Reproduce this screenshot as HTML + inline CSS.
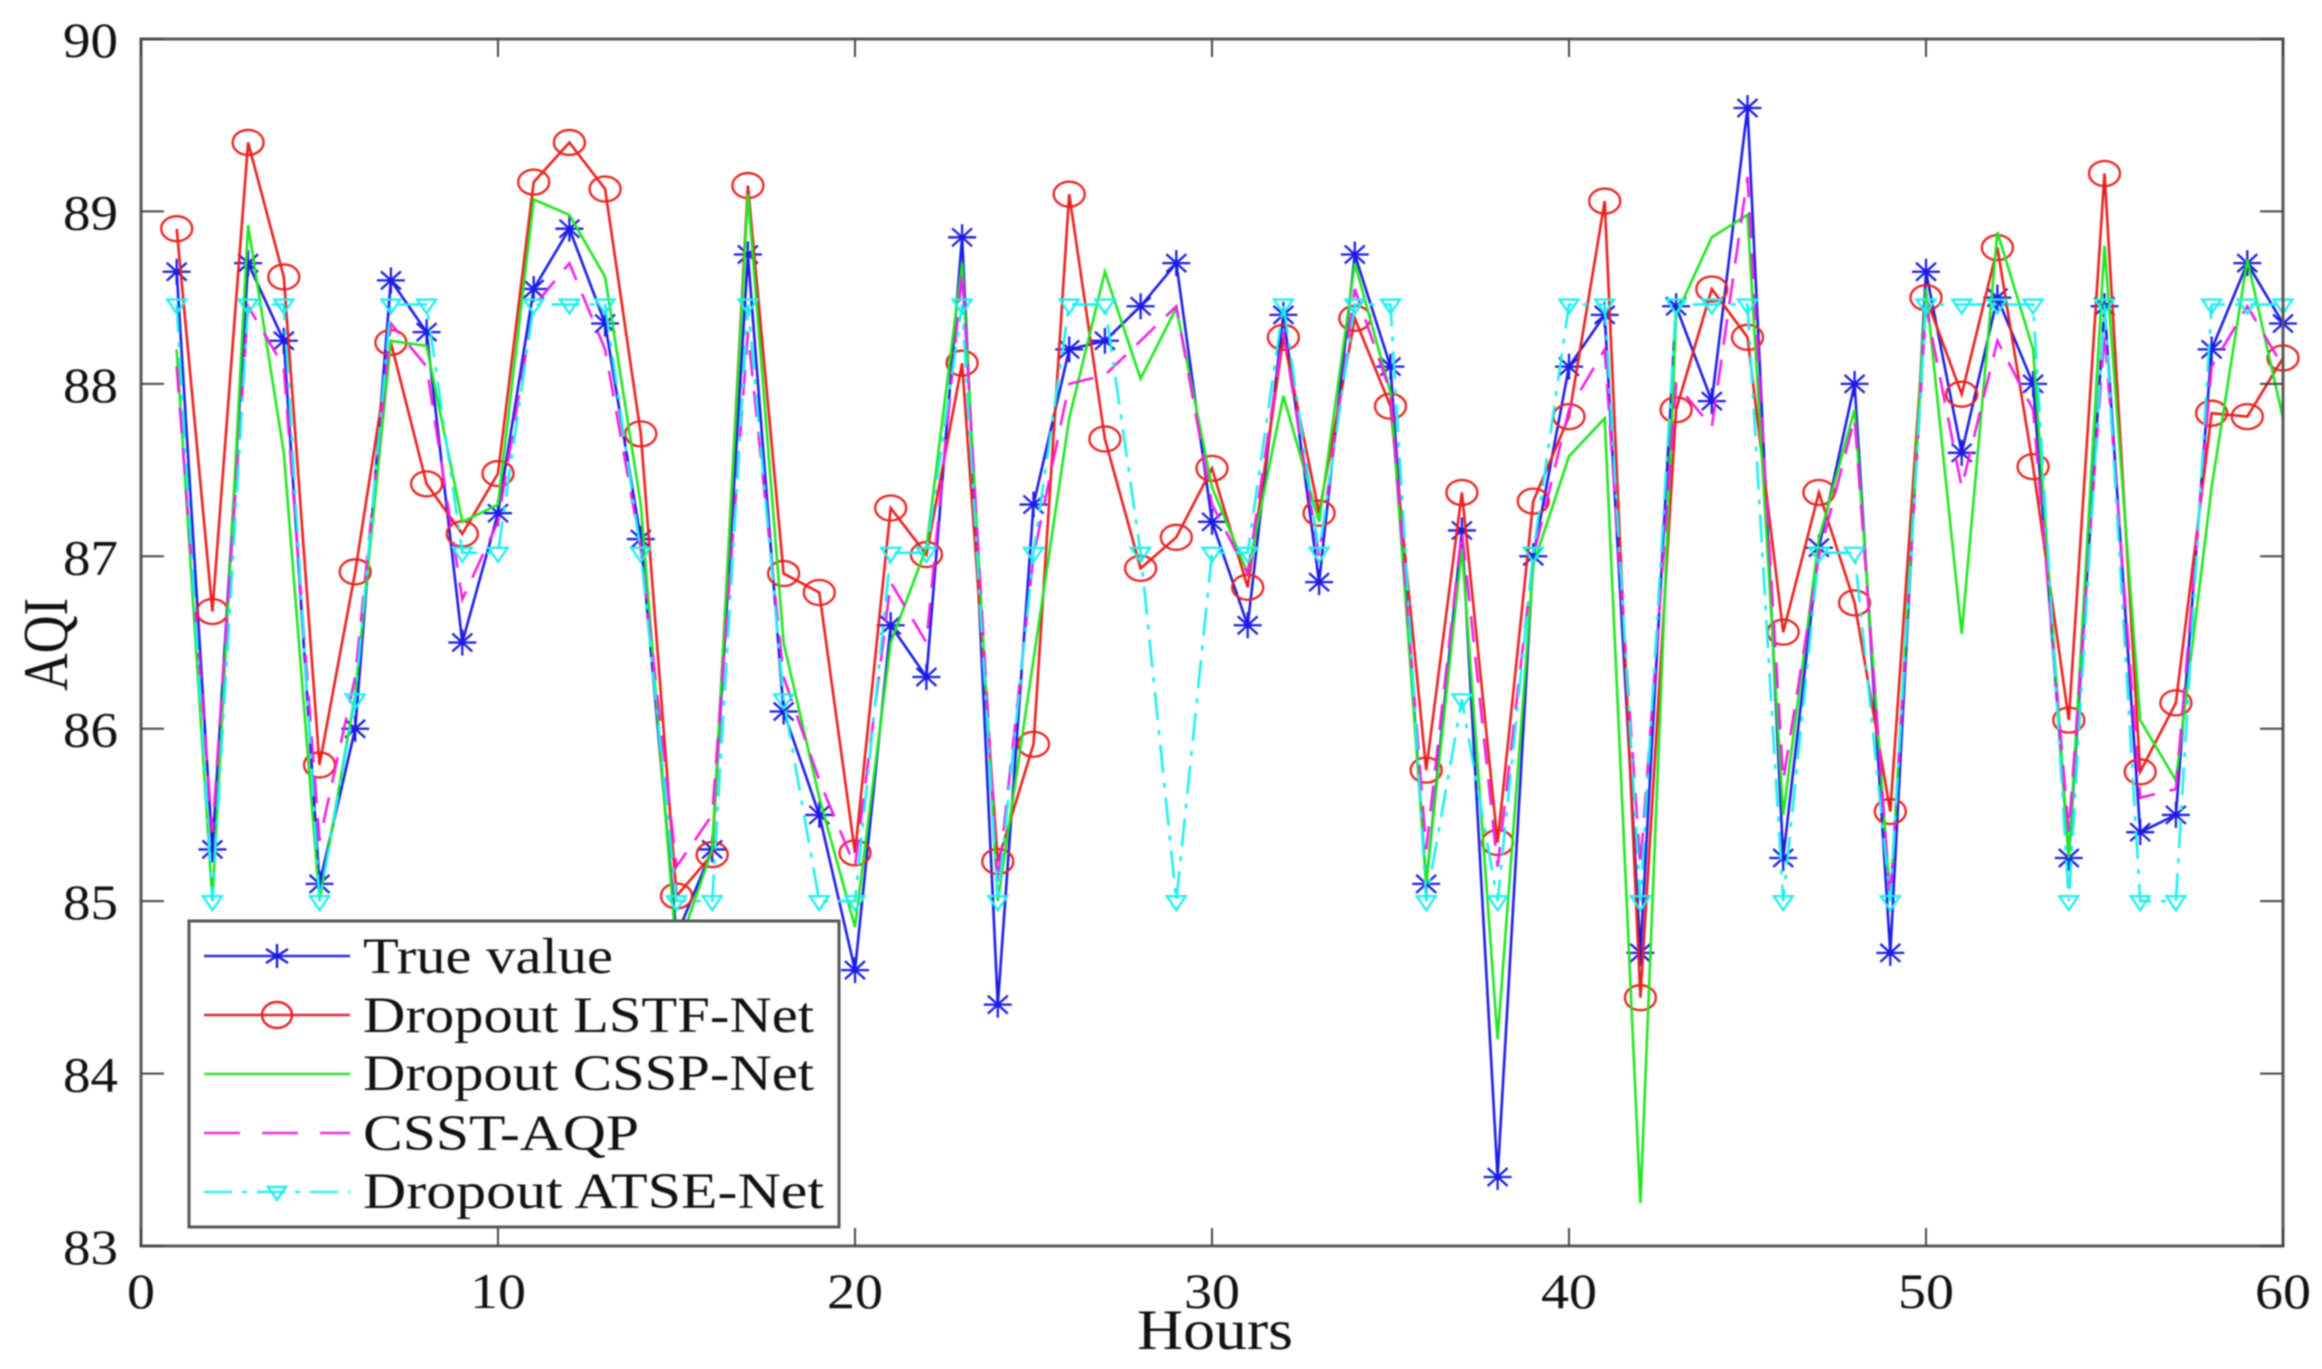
<!DOCTYPE html>
<html>
<head>
<meta charset="utf-8">
<title>AQI prediction chart</title>
<style>
html,body{margin:0;padding:0;background:#fff;width:2322px;height:1369px;overflow:hidden;}
svg{display:block;filter:blur(0.7px);}
text{font-family:"Liberation Serif",serif;fill:#111;}
</style>
</head>
<body>
<svg id="chart" xmlns="http://www.w3.org/2000/svg" width="2322" height="1369" viewBox="0 0 2322 1369">
  <rect x="0" y="0" width="2322" height="1369" fill="#fff"/>
  <g id="series-layer"></g>
  <g id="axes-layer"></g>
  <g id="legend">
    <rect x="189" y="921" width="650" height="306" fill="#fff" stroke="#555" stroke-width="3"/>
    <g>
      <line x1="204" y1="956" x2="350" y2="956" stroke="#2a2ae0" stroke-width="2.6"/>
      <path d="M277 944V968M266 949L288 963M266 963L288 949" stroke="#1515e8" stroke-width="2.4" fill="none"/>
      <text x="363" y="973" font-size="51" textLength="250" lengthAdjust="spacingAndGlyphs">True value</text>
    </g>
    <g>
      <line x1="204" y1="1015" x2="350" y2="1015" stroke="#e02a2a" stroke-width="2.6"/>
      <ellipse cx="277" cy="1015" rx="15" ry="13" fill="none" stroke="#e82020" stroke-width="2.4"/>
      <text x="363" y="1032" font-size="51" textLength="451" lengthAdjust="spacingAndGlyphs">Dropout LSTF-Net</text>
    </g>
    <g>
      <line x1="204" y1="1074" x2="350" y2="1074" stroke="#30e030" stroke-width="2.6"/>
      <text x="363" y="1090" font-size="51" textLength="451" lengthAdjust="spacingAndGlyphs">Dropout CSSP-Net</text>
    </g>
    <g>
      <line x1="204" y1="1133" x2="350" y2="1133" stroke="#ee30e8" stroke-width="2.6" stroke-dasharray="36 22"/>
      <text x="363" y="1150" font-size="51" textLength="276" lengthAdjust="spacingAndGlyphs">CSST-AQP</text>
    </g>
    <g>
      <line x1="204" y1="1192" x2="350" y2="1192" stroke="#30eeee" stroke-width="2.6" stroke-dasharray="28 10 5 10"/>
      <path d="M268 1187H286L277 1200Z" fill="none" stroke="#20eeee" stroke-width="2.4"/>
      <text x="363" y="1208" font-size="51" textLength="461" lengthAdjust="spacingAndGlyphs">Dropout ATSE-Net</text>
    </g>
  </g>
</svg>
<script>
const trueValue = [88.65,85.3,88.7,88.25,85.1,86.0,88.6,88.3,86.5,87.25,88.55,88.9,88.35,87.1,84.8,85.3,88.75,86.1,85.5,84.6,86.6,86.3,88.85,84.4,87.3,88.2,88.25,88.45,88.7,87.2,86.6,88.4,86.85,88.75,88.1,85.1,87.15,83.4,87.0,88.1,88.4,84.7,88.45,87.9,89.6,85.25,87.05,88.0,84.7,88.65,87.6,88.5,88.0,85.25,88.45,85.4,85.5,88.2,88.7,88.35];
const lstfNet = [88.9,86.68,89.4,88.62,85.79,86.91,88.24,87.42,87.13,87.48,89.17,89.4,89.13,87.71,85.03,85.27,89.15,86.9,86.79,85.28,87.28,87.01,88.12,85.23,85.91,89.1,87.68,86.93,87.11,87.51,86.82,88.27,87.25,88.38,87.87,85.76,87.37,85.34,87.32,87.81,89.06,84.44,87.85,88.55,88.27,86.56,87.37,86.73,85.52,88.5,87.94,88.79,87.52,86.05,89.22,85.75,86.15,87.83,87.81,88.15];
const csspNet = [88.2,85.0,88.92,87.6,85.0,86.2,88.25,88.22,87.2,87.3,89.07,88.98,88.62,87.3,84.7,85.3,89.1,86.5,85.6,84.85,86.5,87.05,88.7,85.0,86.4,87.8,88.65,88.03,88.44,87.4,86.9,87.93,87.2,88.7,87.95,85.1,87.05,84.2,86.95,87.58,87.8,83.25,88.4,88.85,88.98,85.5,87.1,87.85,85.0,88.55,86.55,88.88,88.2,85.25,88.8,86.05,85.7,87.4,88.72,87.8];
const csstAqp = [88.1,85.4,88.45,88.1,85.35,86.3,88.35,88.1,86.75,87.2,88.45,88.7,88.2,87.05,85.2,85.5,88.3,86.3,85.7,85.2,86.85,86.5,88.65,85.1,87.0,88.0,88.05,88.25,88.45,87.3,86.9,88.3,87.0,88.55,87.95,85.3,87.15,85.2,87.0,87.85,88.2,85.2,88.0,87.75,89.2,85.7,87.0,87.8,85.0,88.45,87.4,88.25,87.85,85.4,88.3,85.6,85.65,88.1,88.45,88.1];
const atseNet = [88.46,85,88.46,88.46,85,86.17,88.46,88.46,87.02,87.02,88.46,88.46,88.46,87.02,85,85,88.46,86.17,85,85,87.02,87.02,88.46,85,87.02,88.46,88.46,87.02,85,87.02,87.02,88.46,87.02,88.46,88.46,85,86.17,85,87.02,88.46,88.46,85,88.46,88.46,88.46,85,87.02,87.02,85,88.46,88.46,88.46,88.46,85,88.46,85,85,88.46,88.46,88.46];
const hours = trueValue.map(function(_, i){ return i + 1; });
const xTicks = [0,10,20,30,40,50,60];
const yTicks = [83,84,85,86,87,88,89,90];

const NS = 'http://www.w3.org/2000/svg';
const plot = {left:141, right:2283, top:39, bottom:1246};
function xScale(v){ return plot.left + (v - 0) / 60 * (plot.right - plot.left); }
function yScale(v){ return plot.bottom - (v - 83) / 7 * (plot.bottom - plot.top); }
function el(tag, attrs, parent){
  const e = document.createElementNS(NS, tag);
  for (const k in attrs) e.setAttribute(k, attrs[k]);
  parent.appendChild(e);
  return e;
}

const seriesLayer = document.getElementById('series-layer');
const axesLayer = document.getElementById('axes-layer');

function drawLine(values, color, dash, name){
  const pts = values.map(function(v, i){ return xScale(hours[i]).toFixed(1) + ',' + yScale(v).toFixed(1); }).join(' ');
  const attrs = {points: pts, fill: 'none', stroke: color, 'stroke-width': 2.6, 'stroke-linejoin': 'miter'};
  if (dash) attrs['stroke-dasharray'] = dash;
  const line = el('polyline', attrs, seriesLayer);
  
  
}

function drawStars(values){
  values.forEach(function(v, i){
    const cx = xScale(hours[i]), cy = yScale(v);
    const d = 'M' + (cx - 14) + ' ' + cy + 'H' + (cx + 14) +
      'M' + cx + ' ' + (cy - 13) + 'V' + (cy + 13) +
      'M' + (cx - 10) + ' ' + (cy - 9) + 'L' + (cx + 10) + ' ' + (cy + 9) +
      'M' + (cx - 10) + ' ' + (cy + 9) + 'L' + (cx + 10) + ' ' + (cy - 9);
    const m = el('path', {d: d, fill: 'none', stroke: '#1c1ce4', 'stroke-width': 2.3}, seriesLayer);
    
    
  });
}
function drawCircles(values){
  values.forEach(function(v, i){
    const m = el('ellipse', {cx: xScale(hours[i]), cy: yScale(v), rx: 15.5, ry: 12.5, fill: 'none', stroke: '#e8201e', 'stroke-width': 2.3}, seriesLayer);
    
    
  });
}
function drawTriangles(values){
  values.forEach(function(v, i){
    const cx = xScale(hours[i]), cy = yScale(v);
    const d = 'M' + (cx - 9.5) + ' ' + (cy - 5) + 'H' + (cx + 9.5) + 'L' + cx + ' ' + (cy + 9) + 'Z';
    const m = el('path', {d: d, fill: 'none', stroke: '#20eeee', 'stroke-width': 2.3}, seriesLayer);
    
    
  });
}

drawLine(trueValue, '#1c1ce4', null, 'series-true-value-line');
drawStars(trueValue);
drawLine(lstfNet, '#e8201e', null, 'series-dropout-lstf-net-line');
drawCircles(lstfNet);
drawLine(csspNet, '#1fe61f', null, 'series-dropout-cssp-net-line');
drawLine(csstAqp, '#f020e4', '26 15', 'series-csst-aqp-line');
drawLine(atseNet, '#20eeee', '28 10 5 10', 'series-dropout-atse-net-line');
drawTriangles(atseNet);

/* axes box */
const box = el('rect', {x: plot.left, y: plot.top, width: plot.right - plot.left, height: plot.bottom - plot.top, fill: 'none', stroke: '#585858', 'stroke-width': 3}, axesLayer);



xTicks.forEach(function(t){
  const x = xScale(t);
  const a = el('path', {d: 'M' + x + ' ' + plot.bottom + 'v-18M' + x + ' ' + plot.top + 'v18', stroke: '#444', 'stroke-width': 2, fill: 'none'}, axesLayer);
  
  
  const s = String(t);
  const label = el('text', {x: x, y: 1308, 'font-size': 50, 'text-anchor': 'middle', textLength: s.length * 28, lengthAdjust: 'spacingAndGlyphs'}, axesLayer);
  label.textContent = s;
  
  
});

yTicks.forEach(function(t){
  const y = yScale(t);
  const a = el('path', {d: 'M' + plot.left + ' ' + y + 'h23M' + plot.right + ' ' + y + 'h-23', stroke: '#444', 'stroke-width': 2, fill: 'none'}, axesLayer);
  
  
  const label = el('text', {x: 63, y: y + 18, 'font-size': 50, textLength: 55, lengthAdjust: 'spacingAndGlyphs'}, axesLayer);
  label.textContent = String(t);
  
  
});

const xTitle = el('text', {x: 1137, y: 1349, 'font-size': 57, textLength: 156, lengthAdjust: 'spacingAndGlyphs'}, axesLayer);
xTitle.textContent = 'Hours';



const yTitle = el('text', {transform: 'translate(67,691) rotate(-90)', x: 0, y: 0, 'font-size': 64, textLength: 93, lengthAdjust: 'spacingAndGlyphs'}, axesLayer);
yTitle.textContent = 'AQI';


</script>
</body>
</html>
